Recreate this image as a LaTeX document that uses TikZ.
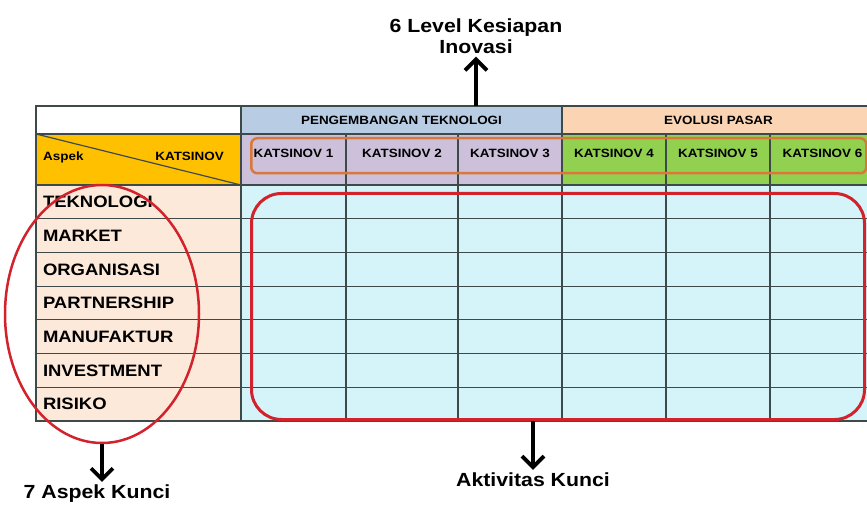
\documentclass[tikz,border=0pt]{standalone}
\usepackage{fontspec}
\setmainfont{Liberation Sans}[FakeStretch=1.12]
\usepackage{tikz}
\usetikzlibrary{arrows.meta, shapes.geometric}
\definecolor{gridline}{HTML}{3E4A4A}
\definecolor{techblue}{HTML}{B8CCE4}
\definecolor{marketpeach}{HTML}{FBD4B4}
\definecolor{lvlpurple}{HTML}{CCC0DA}
\definecolor{lvlgreen}{HTML}{92D050}
\definecolor{aspyellow}{HTML}{FFC000}
\definecolor{rowpeach}{HTML}{FDE9D9}
\definecolor{actcyan}{HTML}{D5F4FA}
\definecolor{ringred}{HTML}{D2222C}
\definecolor{boxorange}{HTML}{D9783A}
\tikzset{x=1pt, y=-1pt, >={Straight Barb[length=11pt, width=22pt]},
  cell/.style={draw=gridline, line width=1.2pt, anchor=north west, inner sep=0pt, outer sep=0pt},
  hdr/.style={font=\bfseries\fontsize{12}{14}\selectfont, text height=8.6pt, text depth=0pt},
  lvlcell/.style={cell, hdr, minimum height=51, text height=8pt, text depth=12pt},
  rowcell/.style={cell, fill=rowpeach, minimum height=33.7, inner xsep=7pt, text width=191pt, align=left,
    font=\bfseries\fontsize{16.5}{18}\selectfont, text height=11.8pt, text depth=0pt},
  big/.style={font=\bfseries\fontsize{19}{21}\selectfont, inner sep=3pt},
  pointer/.style={->, line width=3.8pt},
}
\begin{document}
\begin{tikzpicture}
        \useasboundingbox (0,0) rectangle (867,505);
        \clip (0,0) rectangle (867,505);
        % header rows
        \node[cell, fill=white, minimum width=205, minimum height=28] at (36,106) (blank) {};
        \node[cell, hdr, fill=techblue, minimum width=321, minimum height=28] at (241,106) (pt) {PENGEMBANGAN TEKNOLOGI};
        \node[cell, hdr, fill=marketpeach, minimum width=313, minimum height=28] at (562,106) (ep) {EVOLUSI PASAR};
        \node[cell, fill=aspyellow, minimum width=205, minimum height=51] at (36,134) (asp) {};
        \draw[gridline, line width=1.2pt] (asp.north west) -- (asp.south east);
        \node[hdr, anchor=west, inner sep=0pt] at (43,156) (aspek) {Aspek};
        \node[hdr, anchor=east, inner sep=0pt] at (224,156) (katsinov) {KATSINOV};
        \node[lvlcell, fill=lvlpurple, minimum width=105] at (241,134) (k1) {KATSINOV 1};
        \node[lvlcell, fill=lvlpurple, minimum width=112] at (346,134) (k2) {KATSINOV 2};
        \node[lvlcell, fill=lvlpurple, minimum width=104] at (458,134) (k3) {KATSINOV 3};
        \node[lvlcell, fill=lvlgreen, minimum width=104] at (562,134) (k4) {KATSINOV 4};
        \node[lvlcell, fill=lvlgreen, minimum width=104] at (666,134) (k5) {KATSINOV 5};
        \node[lvlcell, fill=lvlgreen, minimum width=105] at (770,134) (k6) {KATSINOV 6};
        % aspect rows
        \node[rowcell] at (36,185) (teknologi) {TEKNOLOGI};
        \node[rowcell] at (36,218.7) (market) {MARKET};
        \node[rowcell] at (36,252.4) (organisasi) {ORGANISASI};
        \node[rowcell] at (36,286.1) (partnership) {PARTNERSHIP};
        \node[rowcell] at (36,319.8) (manufaktur) {MANUFAKTUR};
        \node[rowcell] at (36,353.5) (investment) {INVESTMENT};
        \node[rowcell] at (36,387.2) (risiko) {RISIKO};
        \foreach \x/\w [count=\c] in {241/105, 346/112, 458/104, 562/104, 666/104, 770/105}
            \foreach \r in {0,...,6}
                \node[cell, fill=actcyan, minimum width=\w, minimum height=33.7] at (\x,185+33.7*\r) (d\r\c) {};
        % highlights
        \node[draw=boxorange, line width=2.5pt, rounded corners=6pt, anchor=north west, minimum width=615, minimum height=35] at (250,137) (lvlbox) {};
        \node[draw=ringred, line width=3pt, rounded corners=30pt, anchor=north west, minimum width=613, minimum height=226] at (250,192) (akt) {};
        \node[ellipse, draw=ringred, line width=2.5pt, minimum width=194, minimum height=258] at (102,314) (asp7) {};
        % labels
        \node[big, align=center] at (476,36) (lvl) {6 Level Kesiapan\\Inovasi};
        \node[big] at (97,494) (asplabel) {7 Aspek Kunci};
        \node[big] at (533,480) (aktlabel) {Aktivitas Kunci};
        \draw[pointer] (lvl.south |- pt.north) -- (lvl.south);
        \draw[pointer] (asp7.south) -- (asp7.south |- asplabel.north);
        \draw[pointer] (aktlabel.north |- akt.south) -- (aktlabel.north);
    \end{tikzpicture}
\end{document}
